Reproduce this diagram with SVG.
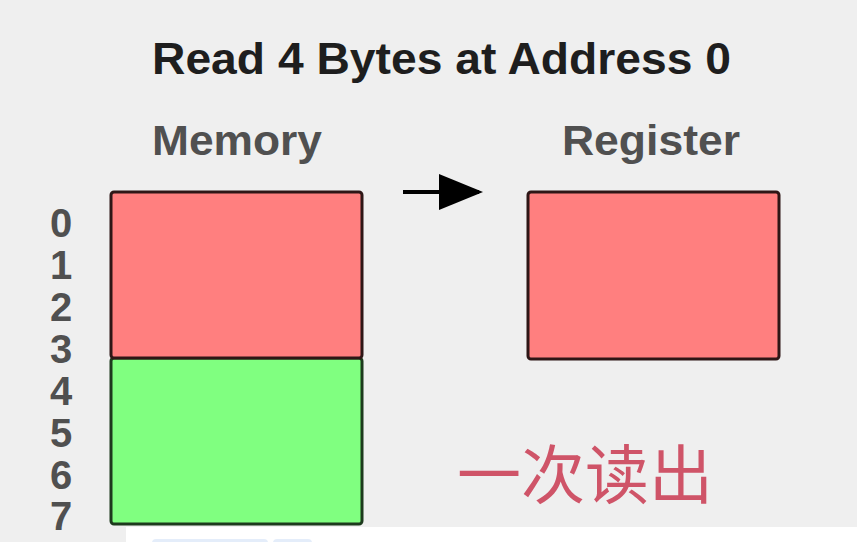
<svg xmlns="http://www.w3.org/2000/svg" width="857" height="542" viewBox="0 0 857 542">
  <defs>
    <style>
      .title { font-family: "Liberation Sans", Arial, sans-serif; font-weight: bold; fill: #1e1e1e; }
      .label { font-family: "Liberation Sans", Arial, sans-serif; font-weight: bold; fill: #505050; }
      .addr { font-family: "Liberation Sans", Arial, sans-serif; font-weight: bold; font-size: 40px; fill: #505050; text-anchor: middle; }
      .note { font-family: "Noto Sans CJK SC", "Noto Sans", sans-serif; font-size: 64px; fill: #cf5468; }
      .red { fill: #ff7f7f; stroke: #2e1616; stroke-width: 3; }
      .green { fill: #80ff80; stroke: #1d3a1d; stroke-width: 3; }
      .wire { stroke: #000; stroke-width: 4; fill: none; }
    </style>
    <marker id="head" viewBox="0 0 44 36" refX="40" refY="18" markerWidth="11" markerHeight="9" orient="auto" markerUnits="strokeWidth">
      <path d="M0,0 L44,18 L0,36 Z" fill="#000"/>
    </marker>
  </defs>

  <!-- page background -->
  <rect x="0" y="0" width="857" height="542" fill="#efefef"/>

  <!-- headings -->
  <text class="title" x="152" y="74" font-size="45" textLength="579" lengthAdjust="spacingAndGlyphs">Read 4 Bytes at Address 0</text>
  <text class="label" x="152" y="155" font-size="42" textLength="170" lengthAdjust="spacingAndGlyphs">Memory</text>
  <text class="label" x="562" y="155" font-size="42" textLength="178" lengthAdjust="spacingAndGlyphs">Register</text>

  <!-- byte addresses -->
  <g id="addresses">
    <text class="addr" x="61" y="237">0</text>
    <text class="addr" x="61" y="279">1</text>
    <text class="addr" x="61" y="321">2</text>
    <text class="addr" x="61" y="363">3</text>
    <text class="addr" x="61" y="405">4</text>
    <text class="addr" x="61" y="447">5</text>
    <text class="addr" x="61" y="489">6</text>
    <text class="addr" x="61" y="530">7</text>
  </g>

  <!-- memory: bytes 0-3 and 4-7 -->
  <g id="memory">
    <rect class="green" x="111" y="358" width="251" height="166" rx="3"/>
    <rect class="red" x="111" y="192" width="251" height="166" rx="3"/>
  </g>

  <!-- register -->
  <g id="register">
    <rect class="red" x="528" y="192" width="251" height="167" rx="3"/>
  </g>

  <!-- connectors -->
  <g id="connectors">
    <path class="wire" d="M403,192 L479,192" marker-end="url(#head)"/>
  </g>

  <!-- caption -->
  <text class="note" x="457" y="498">一次读出</text>

  <!-- bottom strip -->
  <rect x="126" y="527" width="731" height="15" fill="#ffffff"/>
  <rect x="152" y="539" width="116" height="12" rx="4" fill="#e4edfa"/>
  <rect x="273" y="539" width="39" height="12" rx="4" fill="#e4edfa"/>
</svg>
